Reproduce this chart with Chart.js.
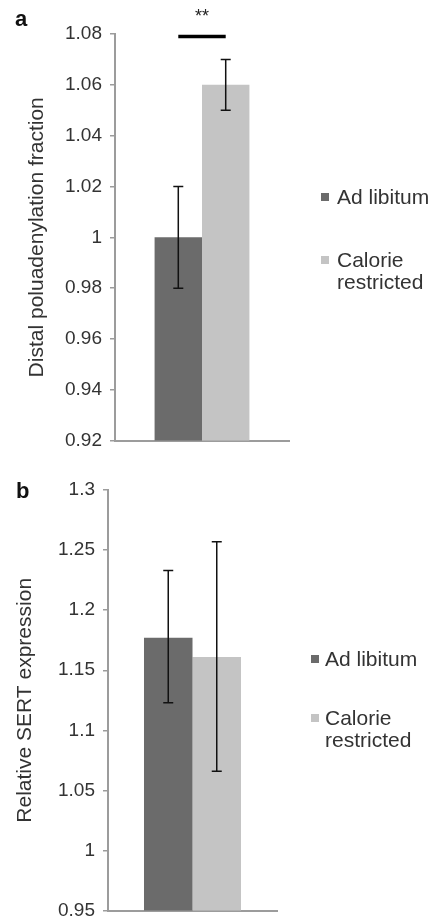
<!DOCTYPE html>
<html>
<head>
<meta charset="utf-8">
<script src="https://cdn.jsdelivr.net/npm/chart.js@4/dist/chart.umd.min.js"></script>
<style>
  html, body { margin: 0; padding: 0; background: #ffffff; width: 434px; height: 920px; overflow: hidden; }
  body { position: relative; font-family: "Liberation Sans", Arial, sans-serif; color: #333; }
  canvas { position: absolute; left: 0; }
  .lbl { position: absolute; white-space: nowrap; }
  .panel { font-weight: bold; font-size: 22px; line-height: 22px; color: #111; }
  .leg { font-size: 21px; line-height: 22px; color: #333; }
  .sw { position: absolute; width: 8px; height: 8px; }
</style>
</head>
<body>
<canvas id="chartA" width="434" height="460" style="top:0px"></canvas>
<canvas id="chartB" width="434" height="470" style="top:460px"></canvas>

<div class="lbl panel" style="left:15px; top:8px;">a</div>
<div class="lbl panel" style="left:16px; top:480px;">b</div>
<div class="lbl" style="left:182px; top:7px; width:40px; text-align:center; font-size:18px; line-height:18px; color:#222;">**</div>

<div class="sw" style="left:321px; top:193px; background:#6b6b6b;"></div>
<div class="lbl leg" style="left:337px; top:186px;">Ad libitum</div>
<div class="sw" style="left:321px; top:256px; background:#c4c4c4;"></div>
<div class="lbl leg" style="left:337px; top:249px;">Calorie<br>restricted</div>

<div class="sw" style="left:311px; top:655px; background:#6b6b6b;"></div>
<div class="lbl leg" style="left:325px; top:648px;">Ad libitum</div>
<div class="sw" style="left:311px; top:714px; background:#c4c4c4;"></div>
<div class="lbl leg" style="left:325px; top:707px;">Calorie<br>restricted</div>

<script>
// ---- data ----
const categories = [''];
const seriesNames = ['Ad libitum', 'Calorie restricted'];
const seriesColors = ['#6b6b6b', '#c4c4c4'];

// panel a
const aValues = [1.00, 1.06];
const aErrLow = [0.98, 1.05];
const aErrHigh = [1.02, 1.07];
const aTickMin = 0.92, aTickMax = 1.08, aTickStep = 0.02;
const aYTitle = 'Distal poluadenylation fraction';
const aSigLevel = 1.079;

// panel b
const bValues = [1.177, 1.161];
const bErrLow = [1.123, 1.066];
const bErrHigh = [1.233, 1.257];
const bTickMin = 0.95, bTickMax = 1.30, bTickStep = 0.05;
const bYTitle = 'Relative SERT expression';

const FONT = '"Liberation Sans", Arial, sans-serif';

const errorBarPlugin = {
  id: 'errorBars',
  afterDatasetsDraw(chart) {
    const ctx = chart.ctx;
    const y = chart.scales.y;
    ctx.save();
    ctx.strokeStyle = '#111';
    ctx.lineWidth = 1.5;
    chart.data.datasets.forEach((ds, i) => {
      const meta = chart.getDatasetMeta(i);
      meta.data.forEach((bar, j) => {
        const lo = y.getPixelForValue(ds.errLow[j]);
        const hi = y.getPixelForValue(ds.errHigh[j]);
        const x = bar.x;
        ctx.beginPath();
        ctx.moveTo(x, lo); ctx.lineTo(x, hi);
        ctx.moveTo(x - 5, lo); ctx.lineTo(x + 5, lo);
        ctx.moveTo(x - 5, hi); ctx.lineTo(x + 5, hi);
        ctx.stroke();
      });
    });
    const sig = chart.options.plugins.sigLine;
    if (sig && sig.level != null) {
      const x0 = chart.getDatasetMeta(0).data[0].x;
      const x1 = chart.getDatasetMeta(1).data[0].x;
      const yy = y.getPixelForValue(sig.level);
      ctx.strokeStyle = '#000';
      ctx.lineWidth = 3.5;
      ctx.beginPath();
      ctx.moveTo(x0, yy); ctx.lineTo(x1, yy);
      ctx.stroke();
    }
    ctx.restore();
  }
};

function fmt(v) { return String(Number(v.toFixed(2))); }

function makeChart(id, values, lo, hi, tmin, tmax, tstep, title, opts) {
  return new Chart(document.getElementById(id), {
    type: 'bar',
    data: {
      labels: categories,
      datasets: seriesNames.map((n, i) => ({
        label: n,
        data: [values[i]],
        errLow: [lo[i]],
        errHigh: [hi[i]],
        backgroundColor: seriesColors[i],
        borderWidth: 0,
        barPercentage: 1.0,
        categoryPercentage: opts.catPct
      }))
    },
    options: {
      responsive: false,
      animation: false,
      devicePixelRatio: 1,
      layout: { padding: opts.padding },
      plugins: {
        legend: { display: false },
        tooltip: { enabled: false },
        sigLine: { level: opts.sig }
      },
      scales: {
        x: {
          ticks: { display: false },
          grid: { display: false },
          border: { display: true, color: '#9c9c9c', width: 2 },
          afterFit(s) { s.height = 0; }
        },
        y: {
          min: tmin, max: tmax,
          ticks: {
            stepSize: tstep,
            callback: (v) => fmt(v),
            color: '#333',
            font: { family: FONT, size: 19 },
            padding: 8
          },
          grid: { display: true, drawOnChartArea: false, drawTicks: true, tickLength: 5, color: '#9c9c9c', lineWidth: 1.5 },
          border: { display: true, color: '#9c9c9c', width: 2 },
          title: {
            display: true, text: title, color: '#333',
            font: { family: FONT, size: 21 },
            padding: { top: opts.titlePad, bottom: 0 }
          },
          afterFit(s) { s.width = opts.axisLeft; }
        }
      }
    },
    plugins: [errorBarPlugin]
  });
}

makeChart('chartA', aValues, aErrLow, aErrHigh, aTickMin, aTickMax, aTickStep, aYTitle, {
  padding: { top: 34, right: 145, bottom: 18, left: 0 },
  axisLeft: 115, catPct: 0.545, titlePad: 25, sig: aSigLevel
});
makeChart('chartB', bValues, bErrLow, bErrHigh, bTickMin, bTickMax, bTickStep, bYTitle, {
  padding: { top: 30, right: 157, bottom: 19, left: 0 },
  axisLeft: 108, catPct: 0.574, titlePad: 13, sig: null
});
</script>
</body>
</html>
